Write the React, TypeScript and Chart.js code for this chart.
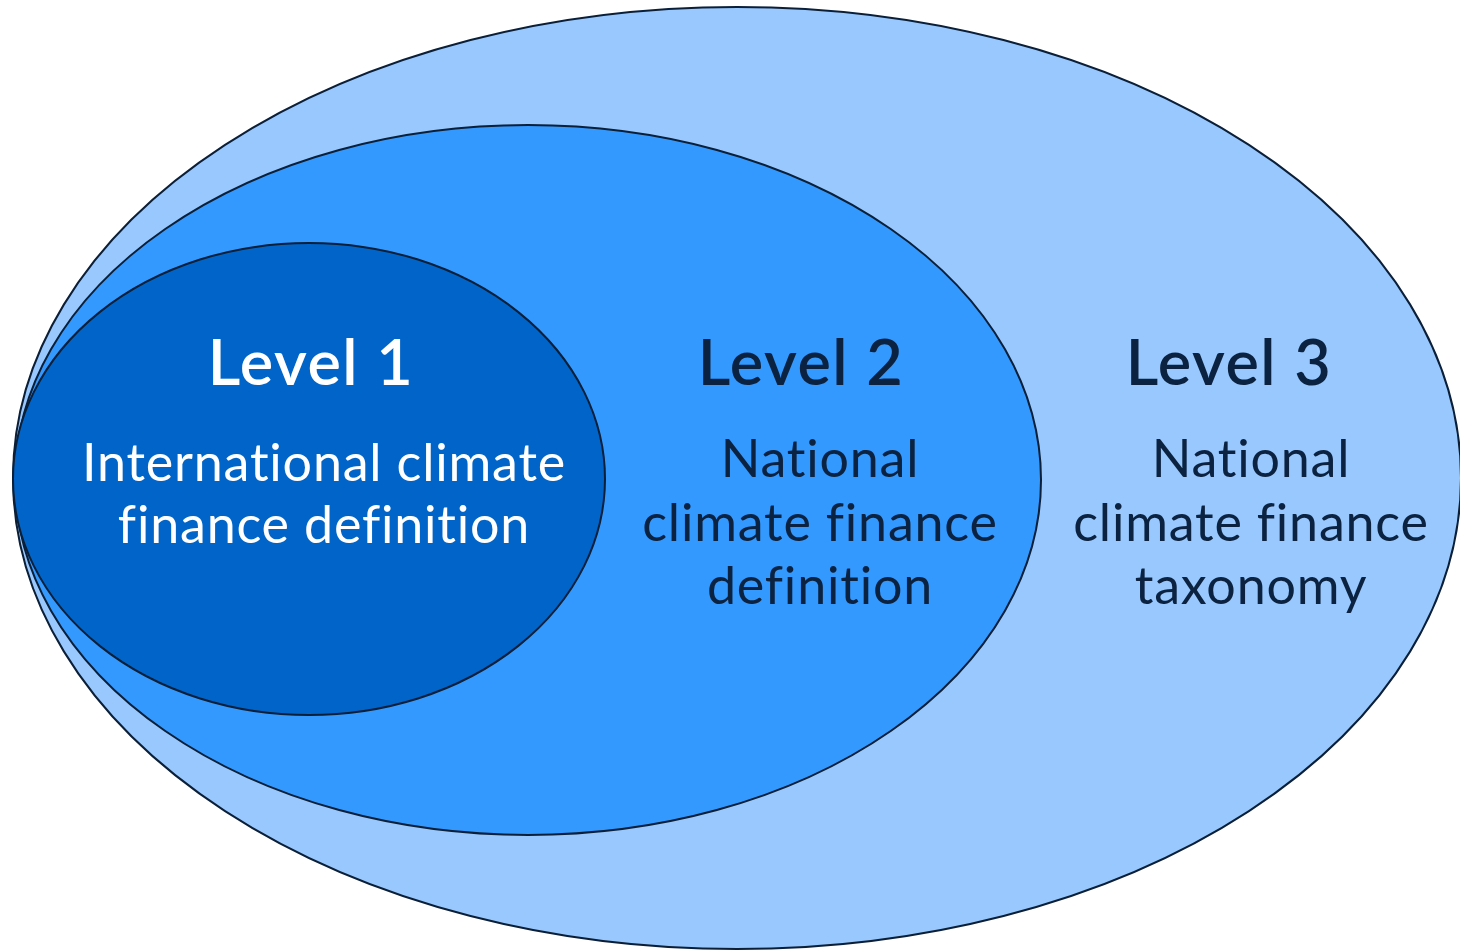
import React, { useEffect, useRef } from "react";
import { Chart, registerables } from "chart.js";

Chart.register(...registerables);

// Ellipses (outer to inner): Level 3, Level 2, Level 1 — in diagram units
const levels = ["Level 3", "Level 2", "Level 1"];
const centerX = [737, 528, 309];
const centerY = [478, 480, 479];
const radiusX = [724, 513, 296];
const radiusY = [471, 355, 236];
const fills = ["#98c8fd", "#3399ff", "#0064c8"];
const stroke = "#0b1f38";

// Labels
const titleText = ["Level 1", "Level 2", "Level 3"];
const titleX = [311, 801, 1229];
const titleY = [385, 385, 385];
const bodyLines = [
  ["International climate", "finance definition"],
  ["National", "climate finance", "definition"],
  ["National", "climate finance", "taxonomy"],
];
const bodyX = [324, 820, 1251];
const bodyY = [[481, 543], [477, 541, 604], [477, 541, 604]];
const textColors = ["#ffffff", "#0b2240", "#0b2240"];

const FONT = "Lato, 'Open Sans', sans-serif";

const ellipsePlugin = {
  id: "ellipses",
  afterDatasetsDraw(chart: any) {
    const { ctx, scales } = chart;
    const xs = scales.x;
    const ys = scales.y;
    ctx.save();
    for (let i = 0; i < levels.length; i++) {
      const px = xs.getPixelForValue(centerX[i]);
      const py = ys.getPixelForValue(centerY[i]);
      const rx = Math.abs(xs.getPixelForValue(centerX[i] + radiusX[i]) - px);
      const ry = Math.abs(ys.getPixelForValue(centerY[i] + radiusY[i]) - py);
      ctx.beginPath();
      ctx.ellipse(px, py, rx, ry, 0, 0, Math.PI * 2);
      ctx.fillStyle = fills[i];
      ctx.fill();
      ctx.lineWidth = 2;
      ctx.strokeStyle = stroke;
      ctx.stroke();
    }
    ctx.textAlign = "center";
    ctx.textBaseline = "alphabetic";
    for (let i = 0; i < titleText.length; i++) {
      ctx.fillStyle = textColors[i];
      ctx.font = `600 63px ${FONT}`;
      (ctx as any).letterSpacing = "1.5px";
      ctx.fillText(
        titleText[i],
        xs.getPixelForValue(titleX[i]),
        ys.getPixelForValue(titleY[i])
      );
      ctx.font = `400 52px ${FONT}`;
      (ctx as any).letterSpacing = "0.8px";
      bodyLines[i].forEach((line, j) => {
        ctx.fillText(
          line,
          xs.getPixelForValue(bodyX[i]),
          ys.getPixelForValue(bodyY[i][j])
        );
      });
    }
    ctx.restore();
  },
};

export default function App() {
  const ref = useRef<HTMLCanvasElement | null>(null);
  useEffect(() => {
    if (!ref.current) return;
    const chart = new Chart(ref.current, {
      type: "scatter",
      data: {
        datasets: [
          {
            label: "centers",
            data: levels.map((_, i) => ({ x: centerX[i], y: centerY[i] })),
            pointRadius: 0,
            pointHoverRadius: 0,
          },
        ],
      },
      options: {
        animation: false,
        responsive: false,
        maintainAspectRatio: false,
        layout: { padding: 0 },
        plugins: { legend: { display: false }, tooltip: { enabled: false } },
        events: [],
        scales: {
          x: { type: "linear", min: 0, max: 1460, display: false },
          y: { type: "linear", min: 0, max: 950, reverse: true, display: false },
        },
      },
      plugins: [ellipsePlugin],
    });
    return () => chart.destroy();
  }, []);
  return (
    <div style={{ position: "fixed", left: 0, top: 0, width: 1460, height: 950, background: "#ffffff" }}>
      <canvas ref={ref} width={1460} height={950} style={{ display: "block" }} />
    </div>
  );
}
